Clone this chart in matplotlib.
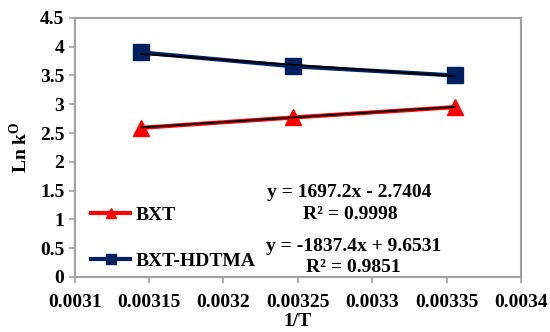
import numpy as np
import matplotlib.pyplot as plt

# 1/T for 318, 308 and 298 K
temps = [318.0, 308.0, 298.0]
inv_t = [1.0 / t for t in temps]
lnk_bxt = [2.59, 2.77, 2.95]
lnk_hdtma = [3.90, 3.66, 3.50]

xticks = [0.0031, 0.00315, 0.0032, 0.00325, 0.0033, 0.00335, 0.0034]
xticklabels = ['0.0031', '0.00315', '0.0032', '0.00325', '0.0033', '0.00335', '0.0034']
yticks = [0, 0.5, 1, 1.5, 2, 2.5, 3, 3.5, 4, 4.5]
yticklabels = ['0', '0.5', '1', '1.5', '2', '2.5', '3', '3.5', '4', '4.5']

# fitted trendlines
fit_bxt = (1697.2, -2.7404)
fit_hdtma = (-1837.4, 9.6531)

plt.rcParams['font.family'] = ['Liberation Serif', 'DejaVu Serif']
plt.rcParams['font.weight'] = 'bold'

fig = plt.figure(figsize=(5.5, 3.32), dpi=100)
ax = fig.add_axes([0.136, 0.166, 0.811, 0.780])

navy = '#002060'
ax.plot(inv_t, lnk_bxt, color='red', lw=3.0, marker='^', ms=12,
        label='BXT', zorder=3)
ax.plot(inv_t, lnk_hdtma, color=navy, lw=3.0, marker='s', ms=12,
        label='BXT-HDTMA', zorder=3)

xx = np.array([inv_t[0], inv_t[-1]])
ax.plot(xx, fit_bxt[0] * xx + fit_bxt[1], color='black', lw=1.3, zorder=4)
ax.plot(xx, fit_hdtma[0] * xx + fit_hdtma[1], color='black', lw=1.3, zorder=4)

ax.set_xlim(0.0031, 0.0034)
ax.set_ylim(0, 4.5)
ax.set_xticks(xticks)
ax.set_xticklabels(xticklabels)
ax.set_yticks(yticks)
ax.set_yticklabels(yticklabels)
ax.tick_params(axis='both', labelsize=14, direction='out', length=4,
               color='#a0a0a0', width=1.2)
ax.tick_params(axis='x', pad=8)
for s in ax.spines.values():
    s.set_color('#a0a0a0')
    s.set_linewidth(1.5)

ax.set_xlabel('1/T', fontsize=14, fontweight='bold', labelpad=2)
ax.set_ylabel('Ln k$^\\mathregular{O}$', fontsize=14, fontweight='bold', labelpad=6)

eq_kw = dict(fontsize=14, fontweight='bold', ha='center', va='center')
ax.text(0.0032844, 1.46, 'y = 1697.2x - 2.7404', **eq_kw)
ax.text(0.0032850, 1.08, 'R² = 0.9998', **eq_kw)
ax.text(0.0032878, 0.52, 'y = -1837.4x + 9.6531', **eq_kw)
ax.text(0.0032870, 0.16, 'R² = 0.9851', **eq_kw)

ax.legend(loc='lower left', bbox_to_anchor=(0.02, -0.002), frameon=False,
          fontsize=14, handlelength=2.0, labelspacing=1.45, handletextpad=0.25,
          borderaxespad=0.0, markerscale=0.65)

fig.savefig('out.png', dpi=100)
